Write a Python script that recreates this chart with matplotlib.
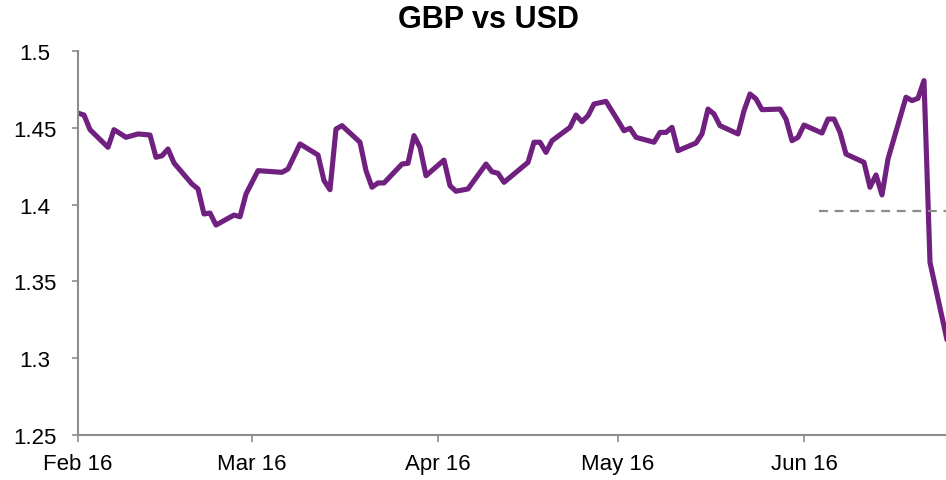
import numpy as np
import pandas as pd
import matplotlib
matplotlib.use("Agg")
import matplotlib.pyplot as plt
import matplotlib.dates as mdates

plt.rcParams['font.family'] = ['Liberation Sans', 'DejaVu Sans']

# GBP/USD rate, Feb - Jun 2016
dates = [
    "2016-02-01", "2016-02-02", "2016-02-03", "2016-02-06", "2016-02-07",
    "2016-02-09", "2016-02-11", "2016-02-13", "2016-02-14", "2016-02-15",
    "2016-02-16", "2016-02-17", "2016-02-20", "2016-02-21", "2016-02-22",
    "2016-02-23", "2016-02-24", "2016-02-27", "2016-02-28", "2016-02-29",
    "2016-03-02", "2016-03-06", "2016-03-07", "2016-03-09", "2016-03-12",
    "2016-03-13", "2016-03-14", "2016-03-15", "2016-03-16", "2016-03-19",
    "2016-03-20", "2016-03-21", "2016-03-22", "2016-03-23", "2016-03-26",
    "2016-03-27", "2016-03-28", "2016-03-29", "2016-03-30", "2016-04-02",
    "2016-04-03", "2016-04-04", "2016-04-06", "2016-04-09", "2016-04-10",
    "2016-04-11", "2016-04-12", "2016-04-16", "2016-04-17", "2016-04-18",
    "2016-04-19", "2016-04-20", "2016-04-23", "2016-04-24", "2016-04-25",
    "2016-04-26", "2016-04-27", "2016-04-29", "2016-05-01", "2016-05-02",
    "2016-05-03", "2016-05-04", "2016-05-07", "2016-05-08", "2016-05-09",
    "2016-05-10", "2016-05-11", "2016-05-14", "2016-05-15", "2016-05-16",
    "2016-05-17", "2016-05-18", "2016-05-21", "2016-05-22", "2016-05-23",
    "2016-05-24", "2016-05-25", "2016-05-28", "2016-05-29", "2016-05-30",
    "2016-05-31", "2016-06-01", "2016-06-04", "2016-06-05", "2016-06-06",
    "2016-06-07", "2016-06-08", "2016-06-11", "2016-06-12", "2016-06-13",
    "2016-06-14", "2016-06-15", "2016-06-18", "2016-06-19", "2016-06-20",
    "2016-06-21", "2016-06-22", "2016-06-25",
]
rates = [
    1.4596, 1.4583, 1.4488, 1.4373, 1.4488,
    1.4438, 1.4460, 1.4453, 1.4308, 1.4318,
    1.4362, 1.4271, 1.4134, 1.4102, 1.3939,
    1.3945, 1.3867, 1.3932, 1.3921, 1.4069,
    1.4221, 1.4210, 1.4232, 1.4395, 1.4323,
    1.4156, 1.4097, 1.4492, 1.4514, 1.4406,
    1.4221, 1.4113, 1.4141, 1.4141, 1.4264,
    1.4269, 1.4449, 1.4373, 1.4188, 1.4290,
    1.4123, 1.4087, 1.4102, 1.4264, 1.4214,
    1.4204, 1.4145, 1.4275, 1.4406, 1.4406,
    1.4340, 1.4416, 1.4503, 1.4583, 1.4540,
    1.4579, 1.4655, 1.4672, 1.4546, 1.4481,
    1.4497, 1.4438, 1.4406, 1.4470, 1.4470,
    1.4503, 1.4351, 1.4401, 1.4460, 1.4622,
    1.4590, 1.4514, 1.4460, 1.4611, 1.4720,
    1.4688, 1.4618, 1.4622, 1.4557, 1.4416,
    1.4438, 1.4518, 1.4466, 1.4557, 1.4557,
    1.4471, 1.4329, 1.4275, 1.4113, 1.4193,
    1.4063, 1.4297, 1.4699, 1.4677, 1.4692,
    1.4807, 1.3624, 1.3090,
]

ref_level = 1.396
ref_start = "2016-06-03 12:00"

x_start = pd.Timestamp("2016-02-01")
x_end = pd.Timestamp("2016-06-24 16:00")
month_ticks = pd.date_range("2016-02-01", "2016-06-01", freq="MS")

purple = "#70207e"
grey = "#8c8c8c"

dates = pd.to_datetime(dates)

fig = plt.figure(figsize=(9.46, 4.81), dpi=100)
ax = fig.add_axes([78 / 946, 45 / 481, 868 / 946, 384 / 481])

ax.plot(dates, rates, color=purple, linewidth=3.7, solid_joinstyle="round",
        solid_capstyle="round")
# dashed reference level in June
ax.plot([pd.Timestamp(ref_start), x_end], [ref_level, ref_level],
        color=grey, linewidth=1.6, linestyle=(0, (4, 3)))

ax.set_xlim(x_start, x_end)
ax.set_ylim(1.25, 1.5)
ax.set_yticks([1.25, 1.3, 1.35, 1.4, 1.45, 1.5])
ax.set_yticklabels(["1.25", "1.3", "1.35", "1.4", "1.45", "1.5"])
ax.set_xticks(month_ticks)
ax.xaxis.set_major_formatter(mdates.DateFormatter("%b %y"))

for side in ["top", "right"]:
    ax.spines[side].set_visible(False)
for side in ["left", "bottom"]:
    ax.spines[side].set_color(grey)
    ax.spines[side].set_linewidth(1.5)

ax.tick_params(axis="y", length=4, width=1.2, color=grey, labelsize=16, pad=27)
ax.tick_params(axis="x", length=5, width=1.2, color=grey, labelsize=16, pad=8)
for lbl in ax.get_yticklabels():
    lbl.set_horizontalalignment("center")

fig.text(488 / 946, 1 - 20 / 481, "GBP vs USD", ha="center", va="center",
         fontsize=22, fontweight="bold")

fig.savefig("out.png", dpi=100)
